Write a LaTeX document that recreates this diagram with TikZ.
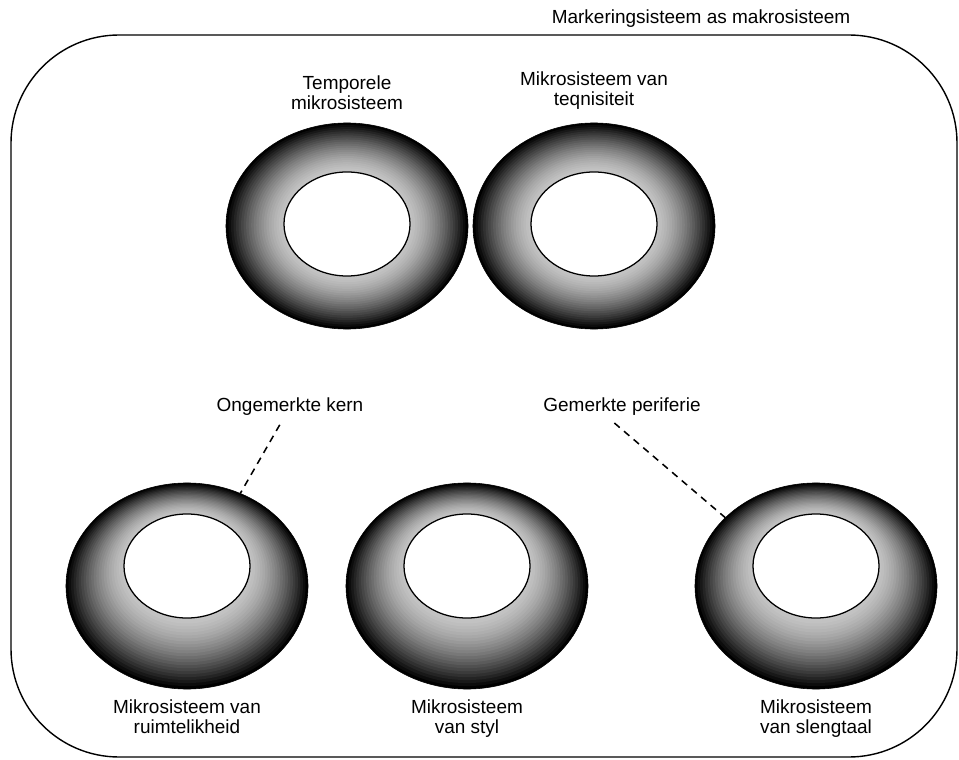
\documentclass[tikz,border=0pt]{standalone}
\usepackage{fontspec}
\setmainfont{Liberation Sans}
\usetikzlibrary{positioning,shapes.geometric}
\tikzset{
  frame/.style={draw=black, line width=1pt, rounded corners=2.7cm},
  ring/.style={ellipse, draw=black, line width=0.4pt,
    minimum width=6.05cm, minimum height=5.15cm, inner sep=0pt},
  hole/.style={ellipse, fill=white, draw=black, line width=0.9pt,
    minimum width=3.15cm, minimum height=2.6cm, inner sep=0pt},
  lbl/.style={font=\fontsize{13.5}{14.5}\selectfont, align=center, inner sep=1pt},
  link/.style={line width=1.1pt, dash pattern=on 5pt off 4pt},
}

\begin{document}
\begin{tikzpicture}[x=0.025cm, y=-0.025cm]
  \useasboundingbox (0,0) rectangle (959,760);
  \draw[frame] (11,35) rectangle (957,757);
  \node[lbl, anchor=base east] (title) at (852,24) {Markeringsisteem as makrosisteem};
  \foreach \n/\x/\y/\d in {temp/347/226/2, tegn/594/226/2,
      ruim/187/586/20, styl/467/586/20, sleng/816/586/20} {
    % rim: black outside, light grey towards the hole
    \foreach \k in {0,...,24} {
      \pgfmathsetmacro\f{\k/24}
      \pgfmathsetmacro\c{22+78*(1-\f)^1.5}
      \pgfmathsetmacro\rx{3.025*(1-0.5*\f)}
      \pgfmathsetmacro\ry{2.575*(1-0.5*\f)}
      \fill[black!\c] (\x,\y-\d*\f) ellipse (\rx cm and \ry cm);
    }
    \node[ring] (\n) at (\x,\y) {};
    \node[hole] (\n h) at (\x,\y-\d) {};
  }
  \node[lbl, above=8pt of temp] (templ) {Temporele\\mikrosisteem};
  \node[lbl, above=8pt of tegn] (tegnl) {Mikrosisteem van\\teqnisiteit};
  \node[lbl, below=6pt of ruim] (ruiml) {Mikrosisteem van\\ruimtelikheid};
  \node[lbl, below=6pt of styl] (styll) {Mikrosisteem\\van styl};
  \node[lbl, below=6pt of sleng] (slengl) {Mikrosisteem\\van slengtaal};
  \node[lbl] (kern) at (290,407) {Ongemerkte kern};
  \node[lbl] (peri) at (622,407) {Gemerkte periferie};
  \draw[link, shorten <=6pt] (kern) -- (ruim);
  \draw[link, shorten <=6pt] ([xshift=-10pt]peri.south) -- (sleng.143);
\end{tikzpicture}
\end{document}
